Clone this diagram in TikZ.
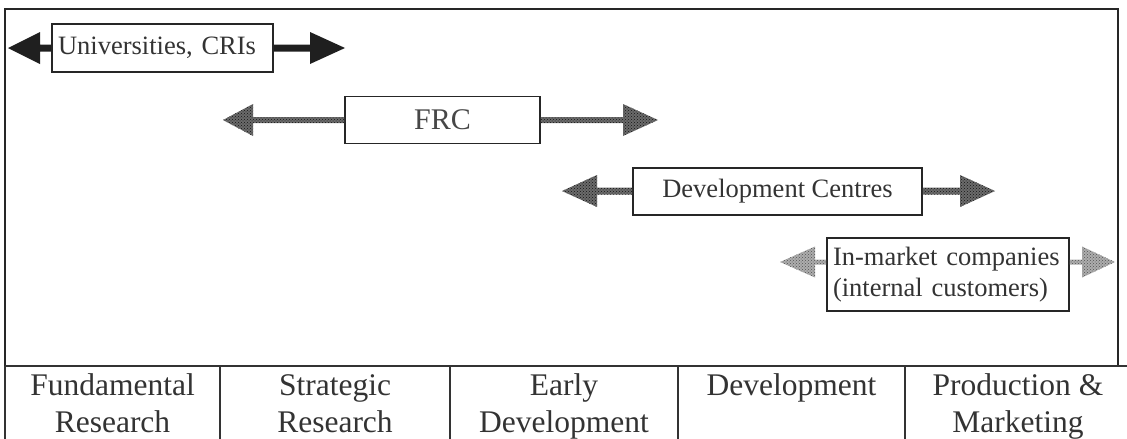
\documentclass[tikz,border=0pt]{standalone}
\usepackage{fontspec}
\setmainfont{Liberation Serif}
\usetikzlibrary{calc,patterns}

% Fat horizontal arrow running from a box side out to a tip.
% #1 fill style, #2 box side anchor, #3 tip, #4 head length (signed, towards the box),
% #5 shaft half width, #6 head half width
\newcommand\fatarrow[6]{%
  \path[#1] let \p1=(#2), \p2=(#3) in
    (\x1,\y2+#5pt) -- ($(\x2,\y2)+(#4pt,#5pt)$) -- ($(\x2,\y2)+(#4pt,#6pt)$) -- (\x2,\y2)
    -- ($(\x2,\y2)+(#4pt,-#6pt)$) -- ($(\x2,\y2)+(#4pt,-#5pt)$) -- (\x1,\y2-#5pt) -- cycle;}

\tikzset{
  lab/.style={draw=black!85, line width=1.8pt, inner sep=0pt,
    font=\fontsize{26.5}{31}\selectfont, text=black!80},
  phase/.style={inner sep=0pt, anchor=north, align=center,
    font=\fontsize{31.5}{37}\selectfont, text=black!80},
  frame/.style={draw=black!85, line width=2pt},
  rule/.style={draw=black!80, line width=1.5pt},
  solidhead/.style={fill=black!88},
  darkdots/.style={preaction={fill=black!58}, pattern=crosshatch dots, pattern color=black!92},
  lightdots/.style={preaction={fill=black!32}, pattern=crosshatch dots, pattern color=black!68},
}

\begin{document}
\begin{tikzpicture}[x=1pt,y=-1pt]
\useasboundingbox (0,0) rectangle (1127,439);

% outer frame and the phase table below it
\draw[frame] (5,9) rectangle (1118,366);
\draw[rule] (5,366) -- (5,439);
\draw[rule] (5,366) -- (1127,366);
\foreach \xs in {220,450,678,905} \draw[rule] (\xs,366) -- (\xs,439);

\node[phase] (fund) at (112.5,369) {\strut Fundamental\\Research};
\node[phase] (strat) at (335,369) {\strut Strategic\\Research};
\node[phase] (early) at (564,369) {\strut Early\\Development};
\node[phase] (devel) at (791.5,369) {\strut Development};
\node[phase] (prod) at (1018,369) {\strut Production \&\\Marketing};

% organisations
\node[lab, minimum width=221pt, minimum height=48pt, text width=209pt, align=left] (uni) at (162.5,48) {Universities, CRIs};
\node[lab, minimum width=195pt, minimum height=47pt, font=\fontsize{30}{36}\selectfont, text=black!72] (frc) at (442.5,120) {FRC};
\node[lab, minimum width=289pt, minimum height=47pt] (dev) at (777.5,191.5) {Development Centres};
\node[lab, minimum width=242pt, minimum height=73pt, text width=230pt, align=left] (imc) at (948,274.5) {In-market companies\\(internal customers)};

% arrow tips
\coordinate (uniL) at (8,48);
\coordinate (uniR) at (345,48);
\coordinate (frcL) at (223,120);
\coordinate (frcR) at (658,120);
\coordinate (devL) at (562,191);
\coordinate (devR) at (995,191);
\coordinate (imcL) at (780,262);
\coordinate (imcR) at (1115,262);

\fatarrow{solidhead}{uni.west}{uniL}{32}{3.5}{16}
\fatarrow{solidhead}{uni.east}{uniR}{-35}{3.5}{16}
\fatarrow{darkdots}{frc.west}{frcL}{30}{3}{16}
\fatarrow{darkdots}{frc.east}{frcR}{-35}{3}{16}
\fatarrow{darkdots}{dev.west}{devL}{35}{3.5}{16}
\fatarrow{darkdots}{dev.east}{devR}{-35}{3.5}{16}
\fatarrow{lightdots}{imc.west}{imcL}{35}{2.5}{15.5}
\fatarrow{lightdots}{imc.east}{imcR}{-33}{2.5}{15.5}
\end{tikzpicture}
\end{document}
